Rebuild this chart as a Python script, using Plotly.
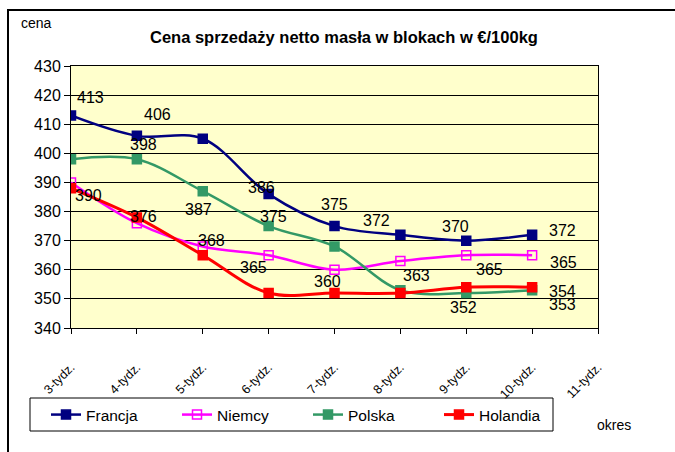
import plotly.graph_objects as go

categories = ["3-tydz.", "4-tydz.", "5-tydz.", "6-tydz.", "7-tydz.", "8-tydz.", "9-tydz.", "10-tydz.", "11-tydz."]
francja = [413, 406, 405, 386, 375, 372, 370, 372]
niemcy = [390, 376, 368, 365, 360, 363, 365, 365]
polska = [398, 398, 387, 375, 368, 353, 352, 353]
holandia = [388, 378, 365, 352, 352, 352, 354, 354]
y_ticks = [340, 350, 360, 370, 380, 390, 400, 410, 420, 430]

series = [
    ("Francja", francja, "#000080", "square", 2.5),
    ("Niemcy", niemcy, "#FF00FF", "square-open", 2.5),
    ("Polska", polska, "#339966", "square", 2.5),
    ("Holandia", holandia, "#FF0000", "square", 3),
]

# which points carry a visible value label, and label offsets in pixels (dx right, dy down)
label_offsets = {
    "Francja": [(19, -18), (21, -21), None, (-7, -7), (0, -22), (-24, -14), (-11, -14), (30, -4)],
    "Niemcy": [(17, 13), (7, -7), (9, -6), (-15, 12), (-7, 12), (16, 14), (23, 14), (31, 7)],
    "Polska": [None, (7, -15), (-4, 18), (5, -10), None, None, (-3, 14), (30, 14)],
    "Holandia": [None, None, None, None, None, None, None, (30, 4)],
}

FONT = "Liberation Sans, Arial, sans-serif"

fig = go.Figure()
for name, vals, color, sym, lw in series:
    fig.add_trace(go.Scatter(
        x=categories[:len(vals)], y=vals, name=name, mode="lines+markers",
        line=dict(color=color, width=lw, shape="spline", smoothing=1.0),
        marker=dict(symbol=sym, size=9, color=color, line=dict(color=color, width=1.5)),
    ))

annotations = []
for name, vals, color, sym, lw in series:
    for i, v in enumerate(vals):
        off = label_offsets[name][i]
        if off is None:
            continue
        annotations.append(dict(
            x=categories[i], y=v, xref="x", yref="y", text=str(v), showarrow=False,
            xshift=off[0], yshift=-off[1], xanchor="center", yanchor="middle",
            font=dict(family=FONT, size=16, color="black"),
        ))

L, R, T, B = 71, 598, 66, 328
W, H = 675, 452
pw, ph = R - L, B - T

def px(x):
    return (x - L) / pw

def py(y):
    return (B - y) / ph

annotations.append(dict(x=px(36), y=py(23), xref="paper", yref="paper", text="cena", showarrow=False,
                        xanchor="center", yanchor="middle", font=dict(family=FONT, size=14, color="black")))
annotations.append(dict(x=px(614), y=py(425), xref="paper", yref="paper", text="okres", showarrow=False,
                        xanchor="center", yanchor="middle", font=dict(family=FONT, size=14, color="black")))
annotations.append(dict(x=px(344), y=py(37), xref="paper", yref="paper",
                        text="<b>Cena sprzedaży netto masła w blokach w €/100kg</b>", showarrow=False,
                        xanchor="center", yanchor="middle", font=dict(family=FONT, size=16.5, color="black")))

fig.update_layout(
    width=W, height=H,
    margin=dict(l=L, r=W - R, t=T, b=H - B),
    paper_bgcolor="white", plot_bgcolor="#FFFFCC",
    font=dict(family=FONT, size=13, color="black"),
    showlegend=True,
    legend=dict(orientation="h", x=px(46), y=py(415), xanchor="left", yanchor="middle",
                borderwidth=0, bgcolor="rgba(0,0,0,0)",
                entrywidth=86, entrywidthmode="pixels",
                font=dict(family=FONT, size=15.5, color="black")),
    annotations=annotations,
    shapes=[
        dict(type="rect", xref="paper", yref="paper", x0=px(8), x1=px(690), y0=py(470), y1=py(10),
             line=dict(color="black", width=2), fillcolor="rgba(0,0,0,0)", layer="below"),
        dict(type="rect", xref="paper", yref="paper", x0=px(30), x1=px(553), y0=py(431), y1=py(398),
             line=dict(color="black", width=1), fillcolor="rgba(0,0,0,0)", layer="below"),
    ],
)
fig.update_xaxes(
    type="category", categoryorder="array", categoryarray=categories,
    range=[0, len(categories) - 1], showgrid=False, zeroline=False,
    showline=True, linecolor="black", linewidth=1, mirror=True,
    ticks="outside", ticklen=5, tickcolor="black", tickangle=-45,
    ticklabelstandoff=21, tickfont=dict(family=FONT, size=12.5, color="black"),
)
fig.update_yaxes(
    range=[340, 430], tickvals=y_ticks, showgrid=True, gridcolor="black", gridwidth=1,
    zeroline=False, showline=True, linecolor="black", linewidth=1, mirror=True,
    ticks="outside", ticklen=6, tickcolor="black",
    tickfont=dict(family=FONT, size=16, color="black"),
)

fig.write_html("out.html", config={"displayModeBar": False},
               post_script="document.body.style.margin='0px';")
